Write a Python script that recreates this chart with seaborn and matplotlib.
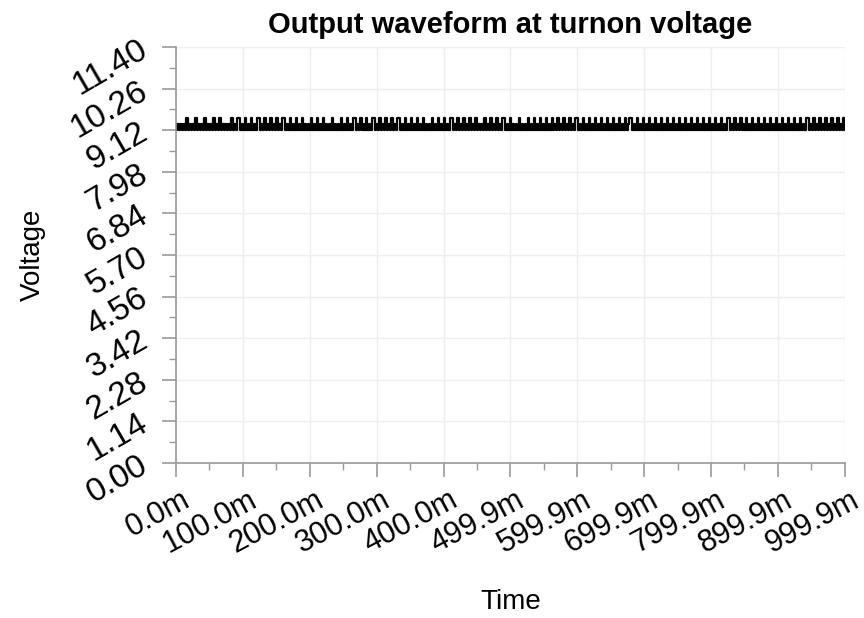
import numpy as np
import pandas as pd
import matplotlib.pyplot as plt
import seaborn as sns
from matplotlib.transforms import ScaledTranslation

# voltage levels seen in the trace (low / middle / high state)
levels = [9.12, 9.28, 9.45]

# state sequence, left to right (0 = low, 1 = mid, 2 = high)
states = (
    "0101010201010201010201010201020101010201022010201020102201020102"
    "0102010220102010201020101020102010201010201010201020102201020102"
    "0102201020102010201022010201020102010201010201020102010220102010"
    "2010201020101020102010201022010201010201010201020102010201020102"
    "0102010201022010201020102010201020102010201020122010201020102010"
    "2010201020102010201020102010201020102010201020102201020102010201"
    "0201020102010201020102010201020102010220102010201020102010201020"
)

x_ticks = [0.0, 100.0, 200.0, 300.0, 400.0, 499.9, 599.9, 699.9, 799.9, 899.9, 999.9]
x_labels = ['0.0m', '100.0m', '200.0m', '300.0m', '400.0m', '499.9m',
            '599.9m', '699.9m', '799.9m', '899.9m', '999.9m']
y_ticks = [0.00, 1.14, 2.28, 3.42, 4.56, 5.70, 6.84, 7.98, 9.12, 10.26, 11.40]

t_end = 999.9
n = len(states)
df = pd.DataFrame({
    'Time': np.linspace(0, t_end, n),
    'Voltage': [levels[int(c)] for c in states],
})

sns.set_style('white')
plt.rcParams['font.family'] = ['Liberation Sans', 'DejaVu Sans']
plt.rcParams['text.color'] = 'black'

fig = plt.figure(figsize=(8.64, 6.18), dpi=100)
ax = fig.add_axes([0.2037, 0.2508, 0.774, 0.6732])

sns.lineplot(data=df, x='Time', y='Voltage', drawstyle='steps-post',
             color='black', linewidth=1.6, ax=ax)

ax.set_xlim(0, t_end)
ax.set_ylim(0, 11.40)
ax.set_xticks(x_ticks)
ax.set_xticks([(a + b) / 2 for a, b in zip(x_ticks[:-1], x_ticks[1:])], minor=True)
ax.set_yticks(y_ticks)
ax.set_yticks([(a + b) / 2 for a, b in zip(y_ticks[:-1], y_ticks[1:])], minor=True)

ax.tick_params(which='major', length=10, width=1.2, color='#999999',
               bottom=True, left=True)
ax.tick_params(axis='x', which='major', pad=6)
ax.tick_params(axis='y', which='major', pad=12)
ax.tick_params(which='minor', length=5, width=1.0, color='#999999',
               bottom=True, left=True)

ax.set_xticklabels(x_labels, rotation=28, ha='right', va='top',
                   rotation_mode='anchor', fontsize=22, color='black')
ax.set_yticklabels(['%.2f' % v for v in y_ticks], rotation=30, ha='right',
                   va='center', rotation_mode='anchor', fontsize=24, color='black')

ax.grid(True, which='major', color='#eeeeee', linewidth=1)
ax.set_axisbelow(True)

for side in ['top', 'right']:
    ax.spines[side].set_visible(False)
for side in ['left', 'bottom']:
    ax.spines[side].set_color('#999999')
    ax.spines[side].set_linewidth(1.2)

ax.set_title('Output waveform at turnon voltage', fontsize=21, fontweight='bold',
             pad=10, color='black')
ax.set_xlabel('Time', fontsize=20, labelpad=21, color='black')
ax.set_ylabel('Voltage', fontsize=20, labelpad=14, color='black')

# nudge the x labels a little to the right
shift = ScaledTranslation(0.05, 0, fig.dpi_scale_trans)
for lbl in ax.get_xticklabels():
    lbl.set_transform(lbl.get_transform() + shift)

fig.savefig('out.png', dpi=100)
